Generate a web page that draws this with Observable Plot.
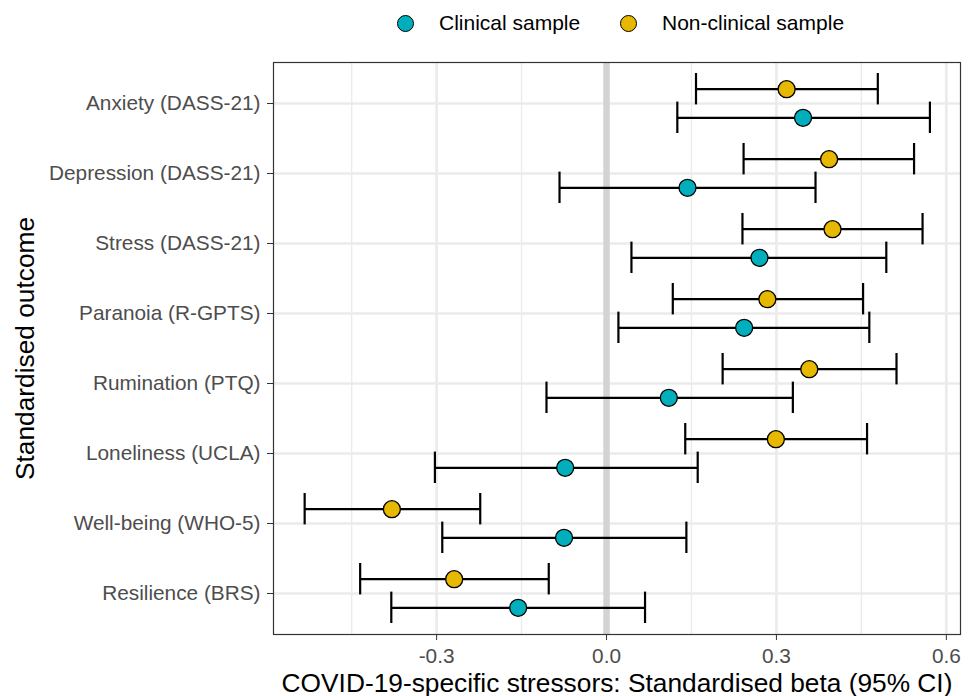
<!DOCTYPE html>
<html>
<head>
<meta charset="utf-8">
<script src="https://cdn.jsdelivr.net/npm/d3@7"></script>
<script src="https://cdn.jsdelivr.net/npm/@observablehq/plot@0.6"></script>
<style>
  body { margin: 0; background: #fff; font-family: "Liberation Sans", Arial, sans-serif; }
  #legend { position: relative; width: 973px; height: 45px; }
  .item { position: absolute; top: 0; height: 46px; display: flex; align-items: center; font-size: 21px; color: #000; white-space: nowrap; }
  .sw { width: 17px; height: 17px; border-radius: 50%; border: 1.3px solid #000; box-sizing: border-box; margin-right: 25px; }
  #chart svg { display: block; }
</style>
</head>
<body>
<div id="legend"></div>
<div id="chart"></div>
<script>
// ---- data ----
const outcomes = [
  "Anxiety (DASS-21)", "Depression (DASS-21)", "Stress (DASS-21)", "Paranoia (R-GPTS)",
  "Rumination (PTQ)", "Loneliness (UCLA)", "Well-being (WHO-5)", "Resilience (BRS)"
];
const samples = ["Clinical sample", "Non-clinical sample"];
const sampleColors = ["#00AFBB", "#E7B800"];

const clinicalBeta = [0.347, 0.143, 0.270, 0.243, 0.110, -0.073, -0.075, -0.156];
const clinicalLow  = [0.125, -0.083, 0.044, 0.021, -0.106, -0.303, -0.290, -0.380];
const clinicalHigh = [0.571, 0.369, 0.494, 0.464, 0.329, 0.161, 0.141, 0.068];

const nonClinicalBeta = [0.318, 0.393, 0.399, 0.284, 0.358, 0.299, -0.379, -0.269];
const nonClinicalLow  = [0.158, 0.242, 0.240, 0.117, 0.205, 0.139, -0.533, -0.435];
const nonClinicalHigh = [0.479, 0.543, 0.558, 0.453, 0.512, 0.460, -0.223, -0.102];

const majorTicks = [-0.3, 0.0, 0.3, 0.6];
const minorTicks = [-0.45, -0.15, 0.15, 0.45];
const xTitle = "COVID-19-specific stressors: Standardised beta (95% CI)";
const yTitle = "Standardised outcome";

// ---- build tables ----
const rows = (sample, beta, lo, hi) =>
  outcomes.map((o, i) => ({outcome: o, sample, beta: beta[i], lo: lo[i], hi: hi[i]}));
const clinical = rows(samples[0], clinicalBeta, clinicalLow, clinicalHigh);
const nonClinical = rows(samples[1], nonClinicalBeta, nonClinicalLow, nonClinicalHigh);

// ---- legend (HTML, above the SVG) ----
const legend = document.getElementById("legend");
const legendLeft = [397, 620];
samples.forEach((s, i) => {
  const item = document.createElement("div");
  item.className = "item";
  item.style.left = legendLeft[i] + "px";
  const sw = document.createElement("span");
  sw.className = "sw";
  sw.style.background = sampleColors[i];
  const tx = document.createElement("span");
  tx.textContent = s;
  item.appendChild(sw);
  item.appendChild(tx);
  legend.appendChild(item);
});

// ---- chart ----
const offset = 14.3;      // dodge between the two samples
const capInset = 19.3;    // makes caps ~32px tall inside ~70.7px band
const barStyle = {stroke: "#000", strokeWidth: 2.2};

const seriesMarks = [
  {data: nonClinical, dy: -offset},
  {data: clinical, dy: offset}
].flatMap(s => [
  Plot.ruleY(s.data, {y: "outcome", x1: "lo", x2: "hi", dy: s.dy, ...barStyle}),
  Plot.tickX(s.data, {x: "lo", y: "outcome", dy: s.dy, insetTop: capInset, insetBottom: capInset, ...barStyle}),
  Plot.tickX(s.data, {x: "hi", y: "outcome", dy: s.dy, insetTop: capInset, insetBottom: capInset, ...barStyle}),
  Plot.dot(s.data, {x: "beta", y: "outcome", dy: s.dy, r: 8.5, fill: "sample", stroke: "#000", strokeWidth: 1.3})
]);

const chart = Plot.plot({
  width: 973,
  height: 651,
  marginLeft: 273,
  marginRight: 13,
  marginTop: 17,
  marginBottom: 62,
  style: {fontFamily: "Liberation Sans, Arial, sans-serif", fontSize: "20.8px", background: "#fff", color: "#000"},
  x: {domain: [-0.588, 0.625]},
  y: {type: "band", domain: outcomes, paddingInner: 0, paddingOuter: 0.045},
  color: {domain: samples, range: sampleColors},
  marks: [
    Plot.gridX(minorTicks, {stroke: "#ebebeb", strokeOpacity: 1, strokeWidth: 1.4}),
    Plot.gridX(majorTicks, {stroke: "#ebebeb", strokeOpacity: 1, strokeWidth: 2.6}),
    Plot.gridY({stroke: "#ebebeb", strokeOpacity: 1, strokeWidth: 2.6}),
    Plot.ruleX([0], {stroke: "#d3d3d3", strokeWidth: 6.5}),
    ...seriesMarks,
    Plot.axisY({tickSize: 6, tickPadding: 7, fontSize: 20.8, fill: "#4d4d4d", stroke: "#333", label: null}),
    Plot.axisX(majorTicks, {tickSize: 6, tickPadding: 8, fontSize: 20.8, fill: "#4d4d4d", stroke: "#333",
      tickFormat: d => d.toFixed(1), label: null}),
    Plot.text([xTitle], {text: d => d, frameAnchor: "bottom", dy: 57, lineAnchor: "bottom", fontSize: 26.3, fill: "#000"}),
    Plot.text([yTitle], {text: d => d, frameAnchor: "left", textAnchor: "middle", dx: -240, rotate: -90, lineAnchor: "bottom", fontSize: 26.3, fill: "#000"}),
    Plot.frame({stroke: "#333", strokeWidth: 1.2})
  ]
});
document.getElementById("chart").appendChild(chart);
</script>
</body>
</html>
